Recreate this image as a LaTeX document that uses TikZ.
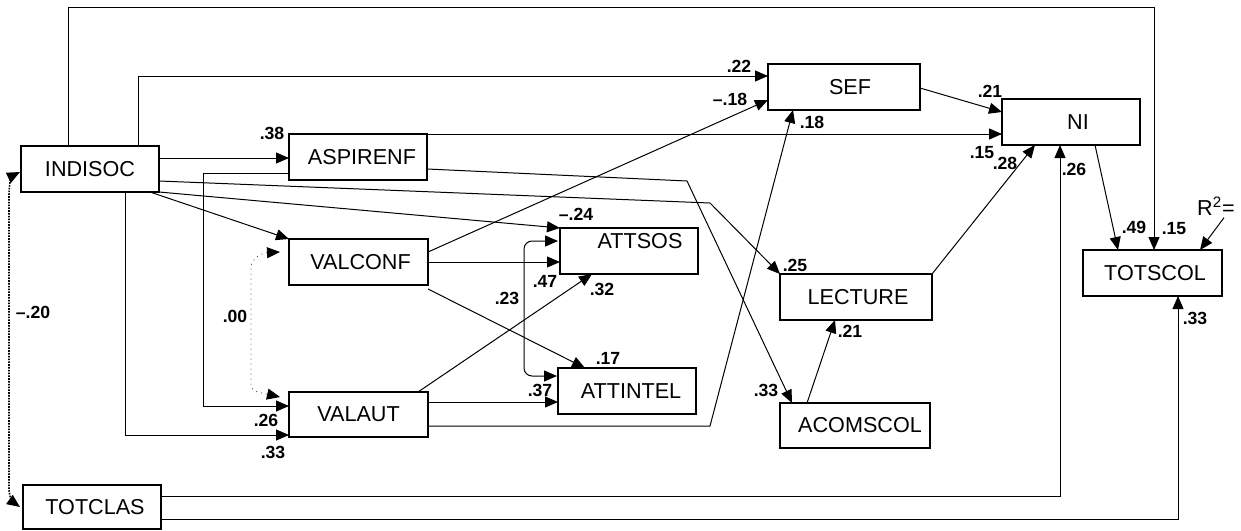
\documentclass[tikz,border=0pt]{standalone}
\usepackage{fontspec}
\setmainfont{Liberation Sans}
\usetikzlibrary{arrows.meta,calc}
\begin{document}
\begin{tikzpicture}[x=0.5pt,y=-0.5pt,
  box/.style={draw, line width=0.6pt, inner sep=0pt, outer sep=0pt, font=\fontsize{10.8}{12}\selectfont},
  lbl/.style={font=\bfseries\fontsize{8.8}{10}\selectfont, inner sep=0pt},
  tip/.style={-{Triangle[length=6.5pt,width=5.5pt,color=black]}},
  arr/.style={line width=0.5pt, tip},
  darr/.style={line width=0.5pt, {Triangle[length=6.5pt,width=5.5pt,color=black]}-{Triangle[length=6.5pt,width=5.5pt,color=black]}}]
\useasboundingbox (0,0) rectangle (1241,530);
% boxes
\node[box, minimum width=69pt, minimum height=23pt] (ind) at (90,169) {INDISOC};
\node[box, minimum width=69pt, minimum height=23pt] (asp) at (358,157) {\hspace{4pt}ASPIRENF};
\node[box, minimum width=69.5pt, minimum height=23pt] (vco) at (358.5,262) {\hspace{2pt}VALCONF};
\node[box, minimum width=69.5pt, minimum height=22.5pt] (vau) at (358.5,414.5) {VALAUT};
\node[box, minimum width=69pt, minimum height=23pt, label={[font=\fontsize{10.8}{12}\selectfont, inner sep=0pt]center:\raisebox{10pt}{\hspace{11pt}ATTSOS}}] (ats) at (629,251) {};
\node[box, minimum width=69pt, minimum height=23pt] (ati) at (627,391) {\hspace{4pt}ATTINTEL};
\node[box, minimum width=76pt, minimum height=23pt] (sef) at (844,87) {\hspace{6pt}SEF};
\node[box, minimum width=69pt, minimum height=23pt] (ni) at (1071,122) {\hspace{7pt}NI};
\node[box, minimum width=69.5pt, minimum height=23pt] (tsc) at (1152.5,273) {\hspace{2.5pt}TOTSCOL};
\node[box, minimum width=76pt, minimum height=23pt] (lec) at (856,297) {\hspace{2pt}LECTURE};
\node[box, minimum width=75pt, minimum height=22.5pt] (aco) at (855,425.5) {\hspace{5pt}ACOMSCOL};
\node[box, minimum width=69pt, minimum height=22pt] (tcl) at (92,507) {\hspace{3pt}TOTCLAS};
\node[font=\fontsize{10.8}{12}\selectfont, inner sep=0pt] (r2) at (1216,206) {R\textsuperscript{2}=};
% connectors
\draw[arr] ($(ind.north west)+(47,0)$) -- ++(0,-139) -| ($(tsc.north west)+(71,0)$);
\draw[arr] ($(ind.north west)+(117,0)$) |- ($(sef.north west)+(0,12)$);
\draw[arr] ($(ind.north east)+(0,12)$) -- ($(asp.north west)+(0,24)$);
\draw[arr] ($(asp.north west)+(0,39)$) -- ++(-86,0) |- ($(vau.north west)+(0,14)$);
\draw[arr] ($(ind.south west)+(104,0)$) |- ($(vau.north west)+(0,43)$);
\draw[arr] ($(ind.south east)+(-9,0)$) -- (vco.north west);
\draw[arr] ($(ind.north east)+(0,35)$) -- (710,203) -- (lec.north west);
\draw[arr] (ind.south east) -- (ats.north west);
\draw[arr] ($(asp.north east)+(0,35)$) -- (687,181) -- ($(aco.north west)+(12,0)$);
\draw[arr] (asp.north east) -- ($(ni.north west)+(0,35)$);
\draw[arr] ($(vco.north east)+(0,13)$) -- ($(sef.north west)+(0,36)$);
\draw[arr] (vco.east) -- ($(ats.north west)+(0,34)$);
\draw[arr] ($(vco.south east)+(0,4)$) -- ($(ati.north west)+(27,0)$);
\draw[arr] ($(vau.north east)+(-10,0)$) -- ($(ats.south west)+(32,0)$);
\draw[arr] ($(vau.north east)+(0,10)$) -- ($(ati.north west)+(0,34)$);
\draw[arr] ($(vau.north east)+(0,34)$) -- (710,426) -- ($(sef.south west)+(25,0)$);
\draw[darr, rounded corners=4pt] ($(ats.north west)+(-2,13)$) -- ++(-34,0) |- ($(ati.north west)+(-1,8)$);
\draw[darr, dotted, line width=0.4pt, black!70] ($(vco.north west)+(-9,13)$) .. controls (262,253) and (251,258) .. (251,268) -- (251,385) .. controls (251,392) and (262,393) .. ($(vau.north west)+(-9,5)$);
\draw[darr, dash pattern=on 0.8pt off 0.6pt, line width=0.8pt] ($(ind.west)+(-1,3)$) .. controls (12,176) and (9,184) .. (9,195) -- (9,488) .. controls (9,497) and (13,502) .. ($(tcl.west)+(-3,0)$);
\draw[arr] ($(tcl.north east)+(0,11)$) -| ($(ni.south west)+(58,0)$);
\draw[arr] ($(tcl.north east)+(0,34)$) -| ($(tsc.south west)+(95,0)$);
\draw[arr] ($(sef.north east)+(0,24)$) -- ($(ni.north west)+(0,13)$);
\draw[arr] (lec.north east) -- ($(ni.south west)+(33,0)$);
\draw[arr] ($(aco.north west)+(27,0)$) -- ($(lec.south west)+(55,0)$);
\draw[arr] ($(ni.south west)+(93,0)$) -- ($(tsc.north west)+(35,0)$);
\draw[arr] ($(r2.south)+(8,2)$) -- ($(tsc.north west)+(117,0)$);
% labels
\node[lbl] (l01) at (272,133) {.38};
\node[lbl] (l02) at (739,66) {.22};
\node[lbl] (l03) at (730,99) {--.18};
\node[lbl] (l04) at (812,122) {.18};
\node[lbl] (l05) at (990,91) {.21};
\node[lbl] (l06) at (982,153) {.15};
\node[lbl] (l07) at (1005,163) {.28};
\node[lbl] (l08) at (1074,169) {.26};
\node[lbl] (l09) at (1134,227) {.49};
\node[lbl] (l10) at (1174,229) {.15};
\node[lbl] (l11) at (576,214) {--.24};
\node[lbl] (l12) at (545,281) {.47};
\node[lbl] (l13) at (602,289) {.32};
\node[lbl] (l14) at (507,298) {.23};
\node[lbl] (l15) at (608,358) {.17};
\node[lbl] (l16) at (540,390) {.37};
\node[lbl] (l17) at (795,265) {.25};
\node[lbl] (l18) at (850,331) {.21};
\node[lbl] (l19) at (766,390) {.33};
\node[lbl] (l20) at (235,316) {.00};
\node[lbl] (l21) at (266,420) {.26};
\node[lbl] (l22) at (273,452) {.33};
\node[lbl] (l23) at (33,312) {--.20};
\node[lbl] (l24) at (1195,318) {.33};
\end{tikzpicture}
\end{document}
